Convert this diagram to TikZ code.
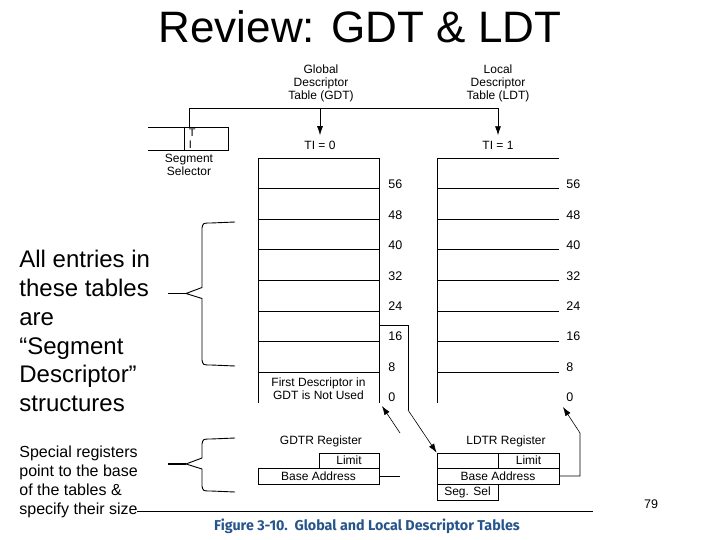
\documentclass[tikz,border=0pt]{standalone}
\usepackage{fontspec}
\setmainfont{Liberation Sans}
\newfontfamily\capfont{Fira Sans}
\usepackage{tikz}
\usetikzlibrary{arrows.meta,calc}
\definecolor{capblue}{RGB}{38,84,140}
\newcommand{\sidebrace}[3]{\draw[line width=0.9pt] (235,#1) -- (211,{#1+1}) .. controls (203,{#1+1}) .. (202,{#1+6}) -- (202,{#2-6}) -- (186,#2) -- (202,{#2+5}) -- (202,{#3-6}) .. controls (203,{#3-1}) .. (211,{#3-1}) -- (235,#3);
\draw[line width=1.8pt] (168,#2) -- (186,#2);}
\tikzset{
  lbl/.style={font=\fontsize{12}{13}\selectfont,inner sep=0,align=center},
  num/.style={font=\fontsize{12.5}{13}\selectfont,inner sep=0,anchor=base west},
  reg/.style={draw,inner sep=0,font=\fontsize{12}{13}\selectfont},
  ptr/.style={-{Latex[length=9pt,width=6pt]}},
  dptr/.style={line width=0.6pt,-{Latex[length=9pt,width=6pt]}}
}
\begin{document}
\begin{tikzpicture}[x=1pt,y=-1pt,line width=0.8pt]
\useasboundingbox (0,0) rectangle (720,540);
\node[font=\fontsize{44}{50}\selectfont,anchor=base,inner sep=0] (title) at (360,43) {Review: GDT \& LDT};
% side notes
\node[anchor=north west,align=left,inner sep=0,font=\fontsize{24}{28.8}\selectfont] (entries) at (19,250) {All entries in\\these tables\\are\\“Segment\\Descriptor”\\structures};
\node[anchor=north west,align=left,inner sep=0,font=\fontsize{16}{18.7}\selectfont] (special) at (19,446) {Special registers\\point to the base\\of the tables \&\\specify their size};
\sidebrace{222}{293.5}{366}
\sidebrace{438}{464}{492}
% selector and table names
\node[lbl,anchor=north] (gdtname) at (321,64) {Global\\Descriptor\\Table (GDT)};
\node[lbl,anchor=north] (ldtname) at (498,64) {Local\\Descriptor\\Table (LDT)};
\draw (148,127) -- (228,127) -- (228,150) -- (148,150);
\draw (184,127) -- (184,150);
\node[anchor=north west,align=left,inner sep=0,font=\fontsize{11}{12}\selectfont] (tibit) at (188.5,128.5) {T\\I};
\node[lbl,anchor=north] (selname) at (189,153.5) {Segment\\Selector};
\node[lbl,anchor=base] (ti0) at (320,150) {TI = 0};
\node[lbl,anchor=base] (ti1) at (498,150) {TI = 1};
\coordinate (selti) at (189,127);
\coordinate (bus) at (189,108);
\draw[ptr,shorten >=6pt] (selti) -- (bus) -| (ti1.north);
\draw[ptr,shorten >=6pt] (bus -| ti0.north) -- (ti0.north);
% descriptor tables
\draw (258,403) -- (258,158) -- (379,158) -- (379,403);
\draw (437,403) -- (437,158) -- (559,158);
\foreach \k in {1,...,7} {
  \draw (258,{158+30.6*\k}) -- (379,{158+30.6*\k});
  \draw (437,{158+30.6*\k}) -- (559,{158+30.6*\k});
}
\foreach \v [count=\k from 0] in {56,48,40,32,24,16,8,0} {
  \node[num] (g\v) at (388,{188.8+30.4*\k}) {\v};
  \node[num] (l\v) at (566,{188.8+30.4*\k}) {\v};
}
\node[lbl,anchor=north] (unused) at (318.5,377.5) {First Descriptor in\\GDT is Not Used};
% registers
\node[lbl,anchor=base] (gdtr) at (321,444) {GDTR Register};
\node[lbl,anchor=base] (ldtr) at (506,444) {LDTR Register};
\node[reg,minimum width=60pt,minimum height=15pt] (glimit) at (349,460.5) {Limit};
\node[reg,minimum width=121pt,minimum height=16pt] (gbase) at (318.5,476) {Base Address};
\node[reg,minimum width=61pt,minimum height=15pt] (lspare) at (467.5,460.5) {};
\node[reg,minimum width=61pt,minimum height=15pt] (llimit) at (528.5,460.5) {Limit};
\node[reg,minimum width=122pt,minimum height=16pt] (lbase) at (498,476) {Base Address};
\node[reg,minimum width=61pt,minimum height=16pt] (lsel) at (467.5,492) {Seg. Sel};
\coordinate (gturn) at (400,476);
\coordinate (gfree) at (400,433);
\coordinate (gdtbot) at (382,406);
\coordinate (ldtd) at (408,410);
\coordinate (lturn) at (580,476);
\coordinate (lup) at (580,433);
\coordinate (ldtbot) at (563,407);
\draw (gbase.east) -- (gturn);
\draw[dptr] (gfree) -- (gdtbot);
\draw (379,325) -- (408,325) -- (ldtd);
\draw[dptr] (ldtd) -- (lspare.north west);
\draw[dptr] (lbase.east) -- (lturn) -- (lup) -- (ldtbot);
% caption
\coordinate (rulel) at (137,511);
\coordinate (ruler) at (593,511);
\draw (rulel) -- (ruler);
\node[font=\capfont\bfseries\fontsize{14.3}{16}\selectfont,text=capblue,anchor=base,inner sep=0] (caption) at (367,530) {Figure 3-10.\ \ Global and Local Descriptor Tables};
\node[font=\fontsize{12.5}{14}\selectfont,anchor=base,inner sep=0] (page) at (651,508) {79};
\end{tikzpicture}
\end{document}
